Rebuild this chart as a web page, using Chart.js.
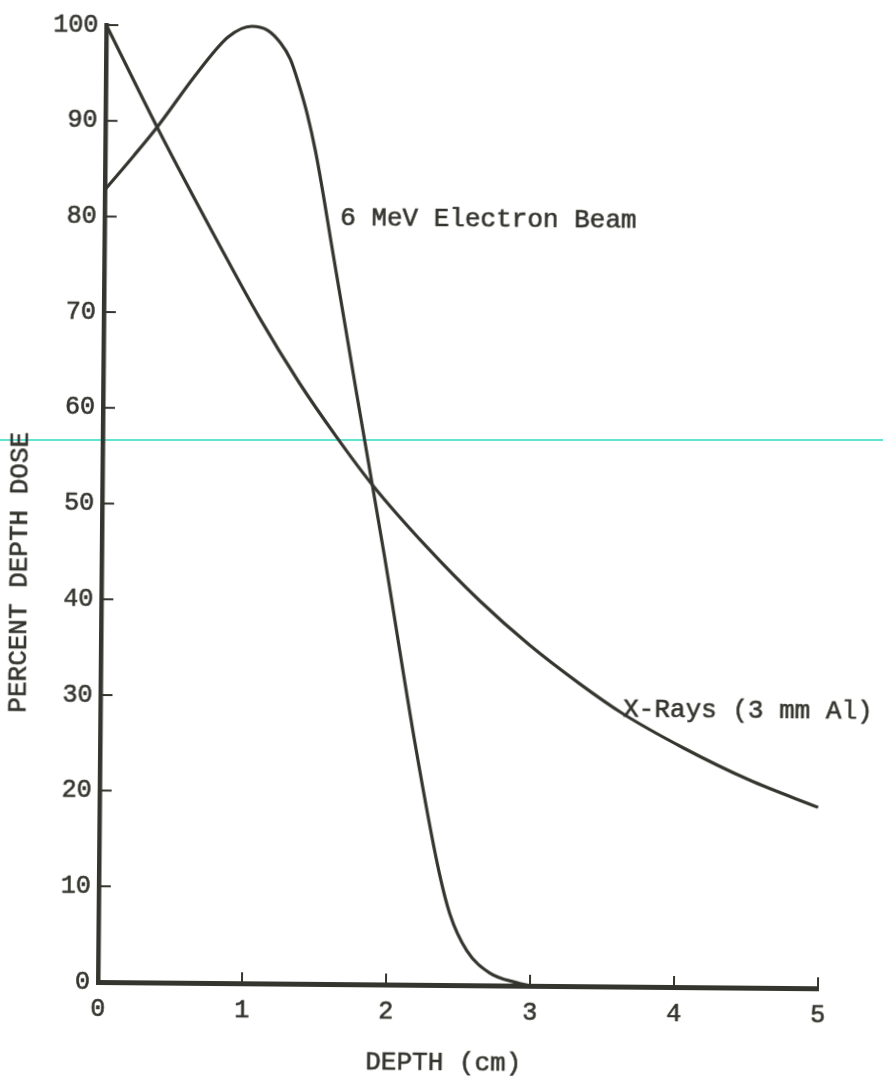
<!DOCTYPE html>
<html>
<head>
<meta charset="utf-8">
<title>Percent depth dose</title>
<script src="https://cdn.jsdelivr.net/npm/chart.js@4.4.1/dist/chart.umd.min.js"></script>
<style>
  html, body { margin: 0; padding: 0; background: #fff; }
  #wrap { position: relative; width: 883px; height: 1076px; overflow: hidden; }
  /* faint cyan streak across the sheet */
  #streak { position: absolute; left: 0; top: 439px; width: 883px; height: 2px; background: #62e6d2; }
  #chart { position: absolute; left: 0; top: 0; transform: rotate(0.5deg); transform-origin: 98px 982px; }
</style>
</head>
<body>
<div id="wrap">
  <div id="streak"></div>
  <canvas id="chart" width="883" height="1076"></canvas>
</div>
<script>
const ink = "#35352f";
const mono = "'Liberation Mono', 'Courier New', monospace";

// axis ticks
const depthTicks = [0, 1, 2, 3, 4, 5];
const doseTicks = [0, 10, 20, 30, 40, 50, 60, 70, 80, 90, 100];

// 6 MeV electron beam (depth cm, percent dose)
const electronDepth = [0, 0.2, 0.36, 0.645, 0.85, 1.01, 1.12, 1.21, 1.28, 1.34, 1.40, 1.46, 1.52, 1.574, 1.757, 1.963, 2.185, 2.353, 2.44, 2.56, 2.72, 2.91, 3.0];
const electronDose  = [82.8, 86.4, 89.4, 95.3, 98.9, 100, 99.6, 98.3, 96.6, 94.0, 90.9, 87.0, 82.2, 77.5, 62.0, 44.8, 25.4, 12.4, 7.4, 3.6, 1.3, 0.3, 0];

// X-rays, 3 mm Al filtration
const xrayDepth = [0, 0.358, 0.81, 1.079, 1.361, 1.622, 1.875, 2.254, 2.626, 2.976, 3.327, 3.63, 4.05, 4.51, 4.99];
const xrayDose  = [100, 89.4, 76.8, 69.6, 62.8, 57.2, 52.2, 45.8, 40.2, 35.6, 31.6, 28.5, 25.0, 21.7, 18.9];

const toPoints = (xs, ys) => xs.map((x, i) => ({ x: x, y: ys[i] }));

// tick marks pointing into the plot, axis titles and curve captions
const paperMarks = {
  id: "paperMarks",
  afterDatasetsDraw(chart) {
    const { ctx, chartArea, scales: { x, y } } = chart;
    ctx.save();
    ctx.strokeStyle = ink;
    ctx.lineWidth = 2;
    ctx.beginPath();
    depthTicks.slice(1).forEach(v => {
      const px = x.getPixelForValue(v);
      ctx.moveTo(px, chartArea.bottom);
      ctx.lineTo(px, chartArea.bottom - 11);
    });
    doseTicks.slice(1).forEach(v => {
      const py = y.getPixelForValue(v);
      ctx.moveTo(chartArea.left, py);
      ctx.lineTo(chartArea.left + 12, py);
    });
    ctx.stroke();

    ctx.fillStyle = ink;
    ctx.lineWidth = 0.6;
    ctx.font = "26px " + mono;
    ctx.textBaseline = "middle";
    const text = (s, tx, ty) => { ctx.fillText(s, tx, ty); ctx.strokeText(s, tx, ty); };

    ctx.textAlign = "left";
    text("6 MeV Electron Beam", x.getPixelForValue(1.635), y.getPixelForValue(80));
    text("X-Rays (3 mm Al)", x.getPixelForValue(3.63), y.getPixelForValue(28.9));

    ctx.textAlign = "center";
    text("DEPTH (cm)", chartArea.left + 346, chartArea.bottom + 78);

    ctx.translate(chartArea.left - 82, chartArea.bottom - 409);
    ctx.rotate(-Math.PI / 2);
    text("PERCENT DEPTH DOSE", 0, 0);
    ctx.restore();
  }
};

const curve = {
  borderColor: ink,
  borderWidth: 3.2,
  pointRadius: 0,
  showLine: true,
  fill: false,
  cubicInterpolationMode: "monotone",
  clip: false
};

const tickFont = {
  color: ink,
  font: { family: mono, size: 25 },
  textStrokeColor: ink,
  textStrokeWidth: 0.6
};

new Chart(document.getElementById("chart"), {
  type: "scatter",
  data: {
    datasets: [
      Object.assign({ label: "6 MeV Electron Beam", data: toPoints(electronDepth, electronDose) }, curve),
      Object.assign({ label: "X-Rays (3 mm Al)", data: toPoints(xrayDepth, xrayDose) }, curve)
    ]
  },
  options: {
    responsive: false,
    animation: false,
    devicePixelRatio: 1,
    layout: { padding: { top: 25, right: 65, left: 0, bottom: 0 } },
    plugins: {
      legend: { display: false },
      tooltip: { enabled: false }
    },
    scales: {
      x: {
        type: "linear",
        min: 0,
        max: 5,
        afterFit: s => { s.height = 94; },
        afterBuildTicks: s => { s.ticks = depthTicks.map(v => ({ value: v })); },
        ticks: Object.assign({ padding: 12 }, tickFont),
        grid: { display: false, drawTicks: false },
        border: { display: true, color: ink, width: 5 }
      },
      y: {
        type: "linear",
        min: 0,
        max: 100,
        afterFit: s => { s.width = 98; },
        afterBuildTicks: s => { s.ticks = doseTicks.map(v => ({ value: v })); },
        ticks: Object.assign({ padding: 8 }, tickFont),
        grid: { display: false, drawTicks: false },
        border: { display: true, color: ink, width: 4.5 }
      }
    }
  },
  plugins: [paperMarks]
});
</script>
</body>
</html>
